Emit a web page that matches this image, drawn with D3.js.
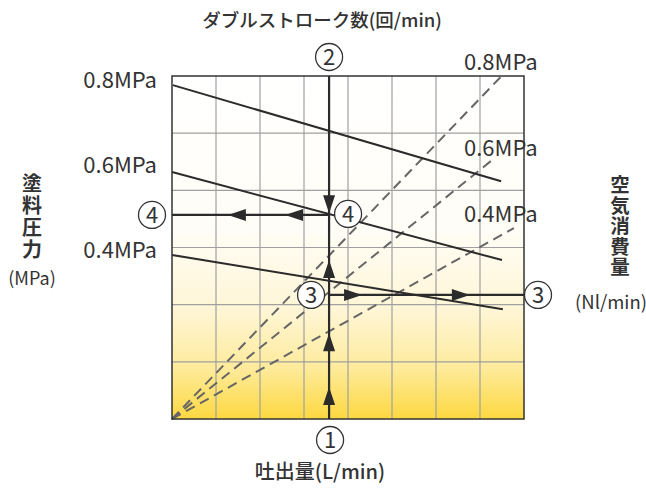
<!DOCTYPE html>
<html>
<head>
<meta charset="utf-8">
<script src="https://cdn.jsdelivr.net/npm/d3@7"></script>
<style>
  body { margin: 0; background: #fff; }
  text { font-family: "Noto Sans CJK JP", "Noto Sans", sans-serif; fill: #333; }
</style>
</head>
<body>
<div id="chart"></div>
<script>
// 塗料圧力ライン (grid units: x 0..8, y 0..6)
const pressureLabels = ['0.8MPa', '0.6MPa', '0.4MPa'];
const solidLines = [
    [[0.02, 5.84], [7.48, 4.16]],
    [[0, 4.32], [7.5, 2.78]],
    [[0, 2.87], [7.52, 1.92]]
];
// 空気消費量ライン (from origin)
const dashedLines = [
    [[0, 0], [7.49, 6.0]],
    [[0, 0], [7.34, 4.57]],
    [[0, 0], [7.77, 3.34]]
];
const leftLabelY = [5.93, 4.44, 2.96];
const rightLabelY = [6.24, 4.74, 3.59];

const readX = 3.57;   // ①-②
const readY4 = 3.57;  // ④
const readY3 = 2.17;  // ③

const arrowsUp = [0.56, 1.5, 2.78];
const arrowsDown = [3.6];
const arrowsLeft = [1.27, 2.57];
const arrowsRight = [4.32, 6.77];

const W = 646, H = 489;
const x = d3.scaleLinear().domain([0, 8]).range([172, 524]);
const y = d3.scaleLinear().domain([0, 6]).range([419, 76]);

const svg = d3.select('#chart').append('svg')
    .attr('width', W)
    .attr('height', H);

const defs = svg.append('defs');
const grad = defs.append('linearGradient')
    .attr('id', 'bg').attr('x1', 0).attr('y1', 0).attr('x2', 0).attr('y2', 1);
grad.append('stop').attr('offset', '0%').attr('stop-color', '#ffffff');
grad.append('stop').attr('offset', '45%').attr('stop-color', '#fffdf6');
grad.append('stop').attr('offset', '68%').attr('stop-color', '#fff6d6');
grad.append('stop').attr('offset', '85%').attr('stop-color', '#feeb9c');
grad.append('stop').attr('offset', '100%').attr('stop-color', '#fdd840');

svg.append('rect')
    .attr('x', x(0)).attr('y', y(6))
    .attr('width', x(8) - x(0)).attr('height', y(0) - y(6))
    .attr('fill', 'url(#bg)');

// grid
svg.append('g').selectAll('line')
    .data(d3.range(1, 8))
    .enter().append('line')
    .attr('x1', d => x(d)).attr('x2', d => x(d))
    .attr('y1', y(0)).attr('y2', y(6))
    .attr('stroke', '#a0a0a0').attr('stroke-width', 1.2);
svg.append('g').selectAll('line')
    .data(d3.range(1, 6))
    .enter().append('line')
    .attr('y1', d => y(d)).attr('y2', d => y(d))
    .attr('x1', x(0)).attr('x2', x(8))
    .attr('stroke', '#a0a0a0').attr('stroke-width', 1.2);

const line = d3.line().x(d => x(d[0])).y(d => y(d[1]));

svg.append('g').selectAll('path')
    .data(dashedLines)
    .enter().append('path')
    .attr('d', line)
    .attr('fill', 'none')
    .attr('stroke', '#666')
    .attr('stroke-width', 2)
    .attr('stroke-dasharray', '10,6');

svg.append('g').selectAll('path')
    .data(solidLines)
    .enter().append('path')
    .attr('d', line)
    .attr('fill', 'none')
    .attr('stroke', '#2b2b2b')
    .attr('stroke-width', 2);

// border
svg.append('rect')
    .attr('x', x(0)).attr('y', y(6))
    .attr('width', x(8) - x(0)).attr('height', y(0) - y(6))
    .attr('fill', 'none')
    .attr('stroke', '#333').attr('stroke-width', 1.5);

// reading lines
const guide = svg.append('g').attr('stroke', '#2b2b2b').attr('stroke-width', 2.2);
guide.append('line')
    .attr('x1', x(readX)).attr('x2', x(readX))
    .attr('y1', y(6)).attr('y2', y(0));
guide.append('line')
    .attr('x1', x(0)).attr('x2', x(readX))
    .attr('y1', y(readY4)).attr('y2', y(readY4));
guide.append('line')
    .attr('x1', x(readX)).attr('x2', x(8))
    .attr('y1', y(readY3)).attr('y2', y(readY3));

// arrowheads
const L = 18, Hw = 6;
const arrows = svg.append('g').attr('fill', '#2b2b2b');
arrows.selectAll('.up').data(arrowsUp).enter().append('path')
    .attr('d', d => { const px = x(readX), py = y(d); return `M${px},${py}L${px - Hw},${py + L}L${px + Hw},${py + L}Z`; });
arrows.selectAll('.down').data(arrowsDown).enter().append('path')
    .attr('d', d => { const px = x(readX), py = y(d); return `M${px},${py}L${px - Hw},${py - L}L${px + Hw},${py - L}Z`; });
arrows.selectAll('.left').data(arrowsLeft).enter().append('path')
    .attr('d', d => { const px = x(d), py = y(readY4); return `M${px},${py}L${px + L},${py - Hw}L${px + L},${py + Hw}Z`; });
arrows.selectAll('.right').data(arrowsRight).enter().append('path')
    .attr('d', d => { const px = x(d), py = y(readY3); return `M${px},${py}L${px - L},${py - Hw}L${px - L},${py + Hw}Z`; });

// circled numbers
const marks = [
    { n: '1', cx: x(readX) + 1, cy: 440 },
    { n: '2', cx: x(readX), cy: 57 },
    { n: '4', cx: 152, cy: y(readY4) },
    { n: '4', cx: x(readX) + 19, cy: y(readY4) - 1 },
    { n: '3', cx: x(readX) - 18, cy: y(readY3) },
    { n: '3', cx: 538, cy: y(readY3) }
];
const mg = svg.append('g').selectAll('g').data(marks).enter().append('g')
    .attr('transform', d => `translate(${d.cx},${d.cy})`);
mg.append('circle').attr('r', 13.5)
    .attr('fill', '#fff').attr('stroke', '#333').attr('stroke-width', 1.3);
mg.append('text').text(d => d.n)
    .attr('text-anchor', 'middle').attr('dy', '0.36em')
    .attr('font-size', '22px');

// pressure labels
svg.append('g').selectAll('text').data(pressureLabels).enter().append('text')
    .attr('x', 157).attr('y', (d, i) => y(leftLabelY[i]))
    .attr('dy', '0.36em').attr('text-anchor', 'end')
    .attr('font-size', '22px').text(d => d);
svg.append('g').selectAll('text').data(pressureLabels).enter().append('text')
    .attr('x', 464).attr('y', (d, i) => y(rightLabelY[i]))
    .attr('dy', '0.36em')
    .attr('font-size', '22px').text(d => d);

// axis titles
svg.append('text').attr('x', 322).attr('y', 20).attr('dy', '0.36em')
    .attr('text-anchor', 'middle').attr('font-size', '18.5px').attr('font-weight', 500)
    .text('ダブルストローク数(回/min)');
svg.append('text').attr('x', 320).attr('y', 472).attr('dy', '0.36em')
    .attr('text-anchor', 'middle').attr('font-size', '20px').attr('font-weight', 500)
    .text('吐出量(L/min)');

const vert = (chars, cx, y0, size, spacing) => {
    svg.append('text')
        .attr('x', cx).attr('y', y0)
        .style('writing-mode', 'vertical-rl')
        .style('letter-spacing', spacing + 'px')
        .attr('font-size', size + 'px').attr('font-weight', 'bold')
        .text(chars);
};
vert('塗料圧力', 32, 173, 20, 2);
svg.append('text').attr('x', 32).attr('y', 279).attr('dy', '0.36em')
    .attr('text-anchor', 'middle').attr('font-size', '18px').text('(MPa)');
vert('空気消費量', 620, 175, 19.5, 1);
svg.append('text').attr('x', 611).attr('y', 302).attr('dy', '0.36em')
    .attr('text-anchor', 'middle').attr('font-size', '18.5px').text('(Nl/min)');
</script>
</body>
</html>
